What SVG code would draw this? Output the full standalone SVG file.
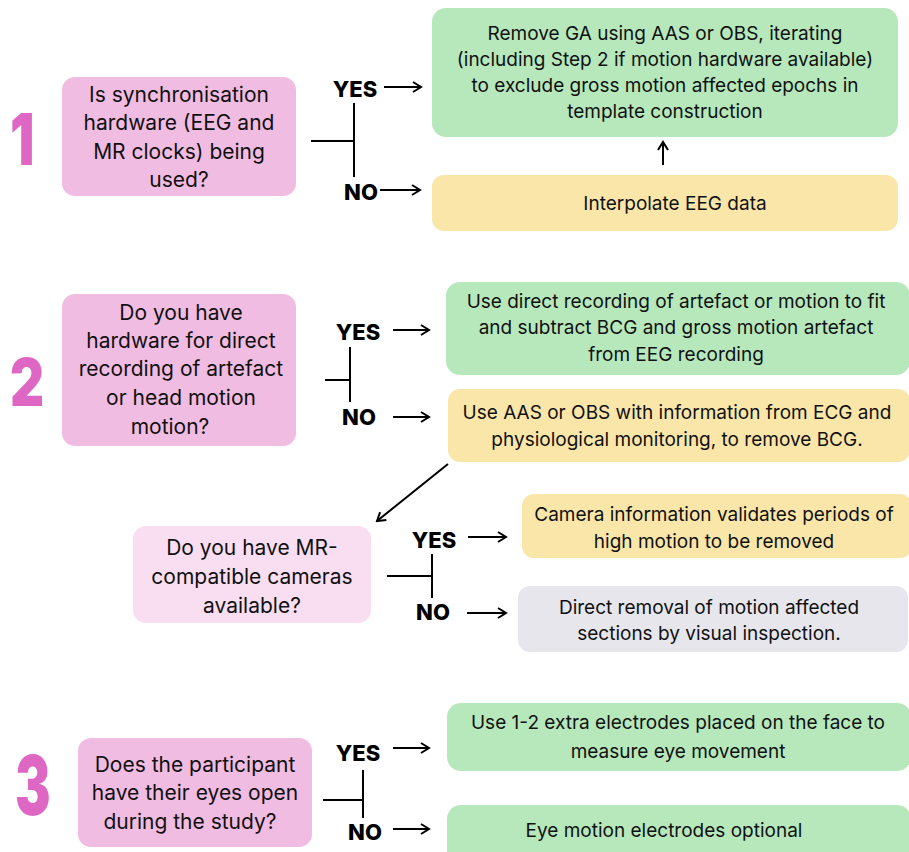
<svg xmlns="http://www.w3.org/2000/svg" width="909" height="852" viewBox="0 0 909 852">
<defs>
<marker id="ah" markerWidth="12" markerHeight="12" refX="10" refY="6" orient="auto" markerUnits="userSpaceOnUse">
<path d="M2,1 L10,6 L2,11" fill="none" stroke="#000" stroke-width="2"/>
</marker>
<style>
.q{fill:#F1BCE1}
.ql{fill:#F9DEF1}
.g{fill:#B6E8BC}
.y{fill:#FAE6A9}
.gr{fill:#E6E6EC}
.t{font-family:Inter,"Liberation Sans",sans-serif;font-size:21px;fill:#111;text-anchor:middle}
.ts{font-family:Inter,"Liberation Sans",sans-serif;font-size:19px;fill:#111;text-anchor:middle}
.yn{font-family:Inter,"Liberation Sans",sans-serif;font-size:22px;font-weight:800;fill:#000;text-anchor:middle}
.num{font-family:Inter,"Liberation Sans",sans-serif;font-weight:900;fill:#DE67C4}
.c{stroke:#000;stroke-width:2;fill:none}
.a{stroke:#000;stroke-width:2;fill:none;marker-end:url(#ah)}
</style>
</defs>
<rect width="909" height="852" fill="#fff"/>

<text class="num" x="10" y="165" font-size="72" transform="translate(10,0) scale(0.75,1) translate(-10,0)">1</text>
<text class="num" x="10" y="406" font-size="66" transform="translate(10,0) scale(0.8,1) translate(-10,0)">2</text>
<text class="num" x="15" y="815" font-size="82" transform="translate(15,0) scale(0.65,1) translate(-15,0)">3</text>

<g id="q1">
<rect class="q" x="62" y="77" width="234" height="119" rx="13"/>
<text class="t" x="179" y="102">Is synchronisation</text>
<text class="t" x="179" y="130">hardware (EEG and</text>
<text class="t" x="179" y="159">MR clocks) being</text>
<text class="t" x="179" y="187">used?</text>
</g>
<g id="yes1"><text class="yn" x="355" y="97">YES</text></g>
<g id="no1"><text class="yn" x="361" y="200">NO</text></g>
<g id="r1a">
<rect class="g" x="432" y="8" width="466" height="129" rx="14"/>
<text class="ts" x="665" y="40">Remove GA using AAS or OBS, iterating</text>
<text class="ts" x="665" y="66">(including Step 2 if motion hardware available)</text>
<text class="ts" x="665" y="92">to exclude gross motion affected epochs in</text>
<text class="ts" x="665" y="118">template construction</text>
</g>
<g id="r1b">
<rect class="y" x="432" y="175" width="466" height="56" rx="12"/>
<text class="ts" x="675" y="210">Interpolate EEG data</text>
</g>

<g id="q2">
<rect class="q" x="62" y="294" width="234" height="152" rx="13"/>
<text class="t" x="181" y="320">Do you have</text>
<text class="t" x="181" y="348">hardware for direct</text>
<text class="t" x="181" y="376">recording of artefact</text>
<text class="t" x="181" y="405">or head motion</text>
<text class="t" x="170" y="434">motion?</text>
</g>
<g id="yes2"><text class="yn" x="358" y="340">YES</text></g>
<g id="no2"><text class="yn" x="359" y="425">NO</text></g>
<g id="r2a">
<rect class="g" x="446" y="282" width="464" height="93" rx="14"/>
<text class="ts" x="676" y="308">Use direct recording of artefact or motion to fit</text>
<text class="ts" x="676" y="334">and subtract BCG and gross motion artefact</text>
<text class="ts" x="676" y="361">from EEG recording</text>
</g>
<g id="r2b">
<rect class="y" x="448" y="389" width="462" height="73" rx="12"/>
<text class="ts" x="677" y="419">Use AAS or OBS with information from ECG and</text>
<text class="ts" x="677" y="446">physiological monitoring, to remove BCG.</text>
</g>

<g id="q2b">
<rect class="ql" x="133" y="526" width="238" height="97" rx="13"/>
<text class="t" x="252" y="555">Do you have MR-</text>
<text class="t" x="252" y="584">compatible cameras</text>
<text class="t" x="252" y="613">available?</text>
</g>
<g id="yes3"><text class="yn" x="434" y="548">YES</text></g>
<g id="no3"><text class="yn" x="433" y="620">NO</text></g>
<g id="r2c">
<rect class="y" x="522" y="494" width="390" height="64" rx="12"/>
<text class="ts" x="714" y="521">Camera information validates periods of</text>
<text class="ts" x="714" y="548">high motion to be removed</text>
</g>
<g id="r2d">
<rect class="gr" x="518" y="586" width="390" height="66" rx="12"/>
<text class="ts" x="709" y="614">Direct removal of motion affected</text>
<text class="ts" x="709" y="640">sections by visual inspection.</text>
</g>

<g id="q3">
<rect class="q" x="78" y="738" width="234" height="109" rx="13"/>
<text class="t" x="195" y="772">Does the participant</text>
<text class="t" x="195" y="800">have their eyes open</text>
<text class="t" x="190" y="829">during the study?</text>
</g>
<g id="yes4"><text class="yn" x="358" y="761">YES</text></g>
<g id="no4"><text class="yn" x="365" y="840">NO</text></g>
<g id="r3a">
<rect class="g" x="447" y="703" width="464" height="68" rx="14"/>
<text class="ts" x="678" y="729">Use 1-2 extra electrodes placed on the face to</text>
<text class="ts" x="678" y="758">measure eye movement</text>
</g>
<g id="r3b">
<rect class="g" x="447" y="805" width="464" height="60" rx="14"/>
<text class="ts" x="664" y="837">Eye motion electrodes optional</text>
</g>

<g id="connectors">
<path class="c" d="M311,141 H354 M354,103 V177"/>
<path class="a" d="M384,87 H421"/>
<path class="a" d="M380,190 H420"/>
<path class="a" d="M663,165 V142"/>
<path class="c" d="M325,380 H350 M350,347 V402"/>
<path class="a" d="M393,330 H429"/>
<path class="a" d="M393,417 H429"/>
<path class="a" d="M448,464 L377,521"/>
<path class="c" d="M387,576 H432 M432,554 V598"/>
<path class="a" d="M468,537 H506"/>
<path class="a" d="M467,613 H506"/>
<path class="c" d="M323,800 H363 M363,770 V818"/>
<path class="a" d="M393,748 H429"/>
<path class="a" d="M393,829 H429"/>
</g>
</svg>
